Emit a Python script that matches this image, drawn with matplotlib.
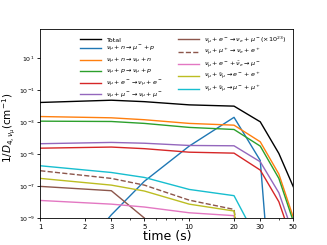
import numpy as np
import matplotlib
matplotlib.use('Agg')
import matplotlib.pyplot as plt
from matplotlib.ticker import FixedLocator, FixedFormatter, NullFormatter, NullLocator

# time grid (s)
t = [1, 3, 5, 10, 20, 30, 40, 50]

# log10 of 1/D (cm^-1)
total = [-1.77, -1.63, -1.72, -1.92, -2.0, -2.98, -4.96, -7.04]
cc_n = [-14.0, -8.8, -6.7, -4.5, -2.7, -5.4, -20.0, -30.0]
nc_n = [-2.65, -2.73, -2.85, -3.08, -3.19, -4.23, -6.25, -8.95]
nc_p = [-2.94, -2.96, -3.08, -3.33, -3.46, -4.5, -6.52, -9.2]
nc_e = [-4.63, -4.56, -4.66, -4.88, -4.94, -6.0, -7.98, -10.6]
nc_mu = [-4.35, -4.27, -4.32, -4.46, -4.48, -5.48, -7.42, -10.0]
cc_e = [-7.02, -7.29, -9.0, -12.0, -15.0, -20.0, -25.0, -30.0]
mu_p = [-6.04, -6.52, -6.94, -7.88, -8.46, -20.0, -25.0, -30.0]
e_nue = [-7.9, -8.13, -8.31, -8.67, -8.85, -20.0, -25.0, -30.0]
nn_ee = [-6.52, -6.94, -7.31, -8.13, -8.56, -20.0, -25.0, -30.0]
nn_mumu = [-5.73, -6.15, -6.46, -7.21, -7.6, -10.7, -20.0, -30.0]

series = [
    (total, 'k', '-', 'Total'),
    (cc_n, 'C0', '-', r'$\nu_\mu + n \rightarrow \mu^- + p$'),
    (nc_n, 'C1', '-', r'$\nu_\mu + n \rightarrow \nu_\mu + n$'),
    (nc_p, 'C2', '-', r'$\nu_\mu + p \rightarrow \nu_\mu + p$'),
    (nc_e, 'C3', '-', r'$\nu_\mu + e^- \rightarrow \nu_\mu + e^-$'),
    (nc_mu, 'C4', '-', r'$\nu_\mu + \mu^- \rightarrow \nu_\mu + \mu^-$'),
    (cc_e, 'C5', '-', r'$\nu_\mu + e^- \rightarrow \nu_e + \mu^-(\times 10^{23})$'),
    (mu_p, 'C5', '--', r'$\nu_\mu + \mu^+ \rightarrow \nu_e + e^+$'),
    (e_nue, 'C6', '-', r'$\nu_\mu + e^- + \bar{\nu}_e \rightarrow \mu^-$'),
    (nn_ee, 'C8', '-', r'$\nu_\mu + \bar{\nu}_\mu \rightarrow e^- + e^+$'),
    (nn_mumu, 'C9', '-', r'$\nu_\mu + \bar{\nu}_\mu \rightarrow \mu^- + \mu^+$'),
]

fig = plt.figure(figsize=(3.27, 2.45), dpi=100)
ax = fig.add_axes([0.1232, 0.110, 0.7737, 0.770])

for vals, c, ls, lab in series:
    ax.plot(t, 10.0 ** np.array(vals), color=c, ls=ls, lw=1.0, label=lab)

ax.set_xscale('log')
ax.set_yscale('log')
ax.set_xlim(1, 50)
ax.set_ylim(1e-9, 10 ** 2.8)

ax.xaxis.set_major_locator(FixedLocator([1, 2, 3, 5, 10, 20, 30, 50]))
ax.xaxis.set_major_formatter(FixedFormatter(['1', '2', '3', '5', '10', '20', '30', '50']))
ax.xaxis.set_minor_locator(FixedLocator([4, 6, 7, 8, 9, 40]))
ax.xaxis.set_minor_formatter(NullFormatter())
ax.yaxis.set_major_locator(FixedLocator([1e-9, 1e-7, 1e-5, 1e-3, 1e-1, 1e1]))
ax.yaxis.set_minor_locator(NullLocator())
ax.tick_params(labelsize=5, length=2.5, width=0.6, pad=1.5)
ax.tick_params(axis='y', labelsize=4.5)
ax.tick_params(which='minor', length=1.5, width=0.5)
for s in ax.spines.values():
    s.set_linewidth(0.6)

ax.set_xlabel('time (s)', fontsize=9, labelpad=0)
ax.set_ylabel(r'$1/D_{4,\nu_\mu}$(cm$^{-1}$)', fontsize=7.5, labelpad=0)
ax.yaxis.set_label_coords(-0.088, 0.48)

ax.legend(loc='upper left', ncol=2, fontsize=4.6, frameon=False,
          handlelength=3.3, handletextpad=0.8, columnspacing=2.4,
          labelspacing=0.22, borderpad=0, borderaxespad=0,
          bbox_to_anchor=(0.155, 0.975))

fig.savefig('out.png', dpi=100)
